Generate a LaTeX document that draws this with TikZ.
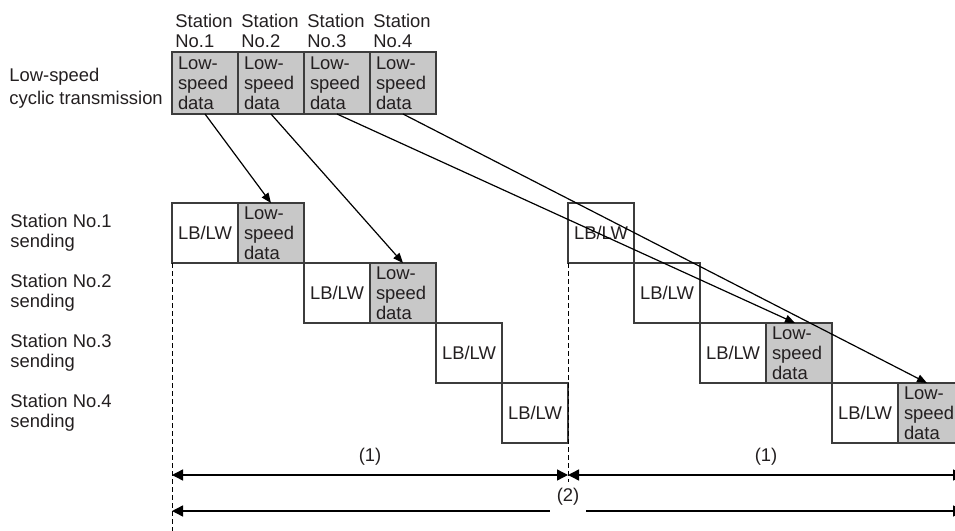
\documentclass[tikz,border=0pt]{standalone}
\usepackage{fontspec}
\setmainfont{Liberation Sans}
\usetikzlibrary{arrows.meta,positioning}

\definecolor{datagray}{RGB}{200,200,200}
\definecolor{edgegray}{RGB}{60,60,60}
\definecolor{txtgray}{RGB}{35,31,32}

\begin{document}
\begin{tikzpicture}[x=0.5pt, y=-0.5pt,
  font=\fontsize{9.2pt}{10pt}\selectfont, text=txtgray,
  lbox/.style={draw=edgegray, line width=0.7pt, outer sep=0pt,
    minimum width=33pt, minimum height=30pt, inner sep=0pt},
  dbox/.style={lbox, fill=datagray, text width=27pt, align=left,
    inner xsep=3pt},
  conn/.style={-{Triangle[length=5pt, width=4pt]}, line width=0.6pt},
  dim/.style={{Triangle[length=5.5pt, width=5.5pt]}-{Triangle[length=5.5pt, width=5.5pt]},
    line width=0.7pt},
  guide/.style={dash pattern=on 2.5pt off 1.5pt, line width=0.5pt}]
\useasboundingbox (0,0) rectangle (955,531);
% ================= low-speed cyclic transmission =================
\node[dbox, minimum height=31pt, anchor=north west] (t1) at (172,52)
  {Low-\\speed\\data};
\node[dbox, minimum height=31pt, right=0pt of t1] (t2) {Low-\\speed\\data};
\node[dbox, minimum height=31pt, right=0pt of t2] (t3) {Low-\\speed\\data};
\node[dbox, minimum height=31pt, right=0pt of t3] (t4) {Low-\\speed\\data};
\foreach \i in {1,...,4}
  \node[anchor=south west, align=left, inner xsep=1.5pt, inner ysep=2pt]
    (st\i) at (t\i.north west) {Station\\No.\i};
\coordinate (lx) at (9,0);
\node[anchor=west, align=left, inner sep=0pt, yshift=-2.5pt,
  font=\fontsize{9.2pt}{11.5pt}\selectfont] (lsc)
  at (t1.west -| lx) {Low-speed\\cyclic transmission};
% ================= first cycle =================
\node[lbox, anchor=north west] (r1l) at (172,203) {LB/LW};
\node[dbox, right=0pt of r1l] (r1d) {Low-\\speed\\data};
\node[lbox, below right=0pt and 0pt of r1d] (r2l) {LB/LW};
\node[dbox, right=0pt of r2l] (r2d) {Low-\\speed\\data};
\node[lbox, below right=0pt and 0pt of r2d] (r3l) {LB/LW};
\node[lbox, below right=0pt and 0pt of r3l] (r4l) {LB/LW};
% ================= second cycle =================
\node[lbox, anchor=north west] (s1l) at (r4l.east |- r1l.north) {LB/LW};
\node[lbox, below right=0pt and 0pt of s1l] (s2l) {LB/LW};
\node[lbox, below right=0pt and 0pt of s2l] (s3l) {LB/LW};
\node[dbox, right=0pt of s3l] (s3d) {Low-\\speed\\data};
\node[lbox, below right=0pt and 0pt of s3d] (s4l) {LB/LW};
\node[dbox, right=0pt of s4l] (s4d) {Low-\\speed\\data};
% station labels
\coordinate (sx) at (10,0);
\foreach \r/\n in {r1l/1, r2l/2, r3l/3, r4l/4}
  \node[anchor=west, align=left, inner sep=0pt] (snd\n) at (\r.west -| sx)
    {Station No.\n\\sending};
% dashed guides
\coordinate (g0) at (r1l.south west |- 0,540);
\coordinate (g1) at (s1l.south west |- 0,484);
\draw[guide] (r1l.south west) -- (g0);
\draw[guide] (s1l.south west) -- (g1);
% transfer arrows
\draw[conn] (t1.south) -- (r1d.north);
\draw[conn] (t2.south) -- (r2d.north);
\draw[conn] (t3.south) -- ([xshift=-2pt]s3d.north);
\draw[conn] (t4.south) -- ([xshift=-2pt]s4d.north);
% ================= periods =================
\coordinate (a0) at (r1l.west |- 0,475);
\coordinate (a1) at (s1l.west |- 0,475);
\coordinate (a2) at (s4d.east |- 0,475);
\draw[dim] (a0) -- (a1) node[midway, above=1pt] (p1a) {(1)};
\draw[dim] (a1) -- (a2) node[midway, above=1pt] (p1b) {(1)};
\coordinate (b0) at (r1l.west |- 0,511);
\coordinate (b2) at (s4d.east |- 0,511);
\draw[dim] (b0) -- (b2) node[midway, above=-1pt, fill=white] (p2) {(2)};
\end{tikzpicture}
\end{document}
